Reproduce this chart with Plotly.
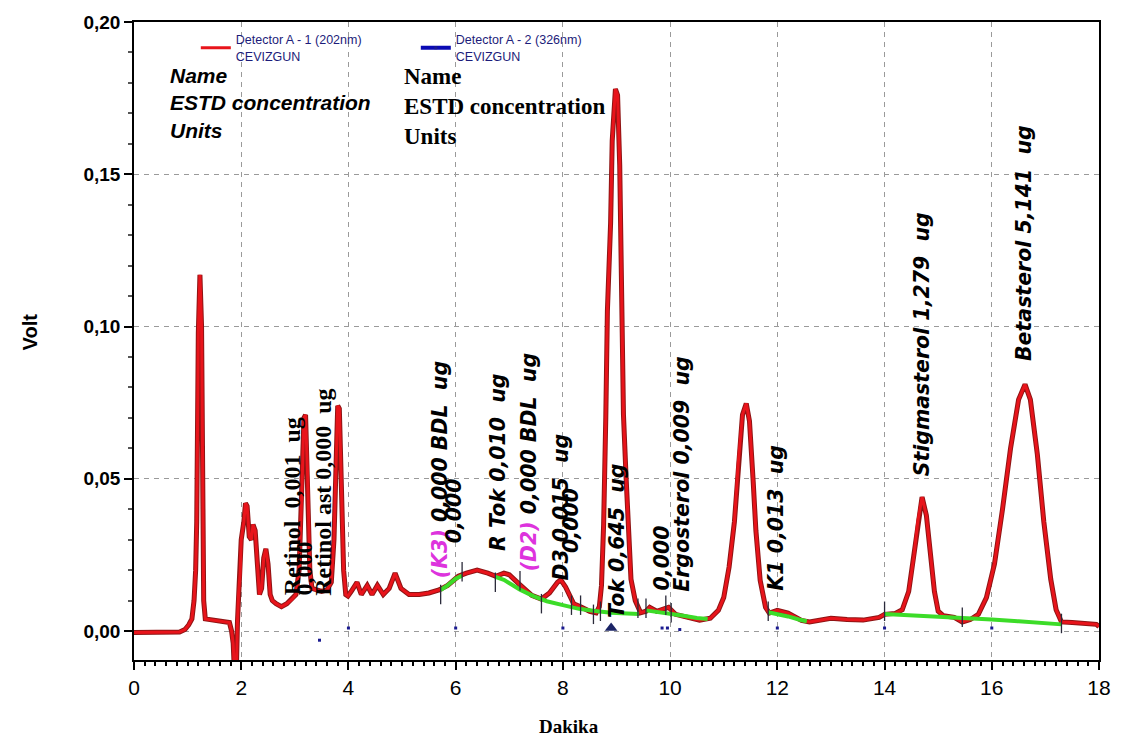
import plotly.graph_objects as go

# ---------------- data ----------------
red_t = [0.00, 0.50, 0.85, 0.95, 1.02, 1.08, 1.12, 1.15, 1.17, 1.20, 1.23, 1.26, 1.28, 1.30, 1.33,
         1.50, 1.70, 1.78, 1.82, 1.85, 1.87, 1.91, 1.93, 1.95, 1.98, 2.00, 2.05, 2.08, 2.11, 2.15,
         2.19, 2.22, 2.26, 2.30, 2.34, 2.38, 2.42, 2.46, 2.50, 2.54, 2.58, 2.65, 2.75, 2.85, 2.95,
         3.02, 3.08, 3.13, 3.17, 3.20, 3.24, 3.28, 3.32, 3.40, 3.50, 3.60, 3.68, 3.73, 3.77, 3.80,
         3.83, 3.87, 3.91, 3.95, 3.99, 4.05, 4.16, 4.24, 4.35, 4.44, 4.54, 4.65, 4.76, 4.87, 4.98,
         5.13, 5.32, 5.50, 5.69, 5.85, 6.05, 6.20, 6.40, 6.60, 6.75, 6.90, 7.00, 7.18, 7.42, 7.60,
         7.75, 7.90, 7.96, 8.05, 8.20, 8.35, 8.50, 8.62, 8.68, 8.72, 8.76, 8.80, 8.83, 8.89, 8.92,
         8.98, 9.02, 9.06, 9.09, 9.13, 9.18, 9.22, 9.27, 9.35, 9.45, 9.55, 9.62, 9.75, 9.85, 9.97,
         10.10, 10.30, 10.55, 10.75, 10.90, 11.00, 11.10, 11.20, 11.27, 11.35, 11.42, 11.48, 11.55,
         11.60, 11.68, 11.78, 11.85, 12.00, 12.20, 12.45, 12.60, 13.00, 13.30, 13.60, 13.90, 14.00,
         14.20, 14.33, 14.45, 14.55, 14.62, 14.70, 14.78, 14.85, 14.93, 15.00, 15.10, 15.30, 15.45,
         15.60, 15.75, 15.90, 16.05, 16.20, 16.35, 16.50, 16.62, 16.72, 16.85, 16.97, 17.10, 17.20,
         17.30, 17.50, 17.80, 17.95, 18.00]
red_v = [-0.0005, -0.0005, -0.0003, 0.0005, 0.002, 0.004, 0.010, 0.020, 0.036, 0.098, 0.117, 0.100, 0.035, 0.010, 0.004,
         0.0035, 0.0030, 0.0028, 0.0000, -0.004, -0.012, -0.012, 0.003, 0.012, 0.019, 0.030, 0.036, 0.042, 0.041, 0.031,
         0.030, 0.035, 0.033, 0.022, 0.012, 0.014, 0.024, 0.027, 0.022, 0.012, 0.010, 0.009, 0.008, 0.009, 0.0105,
         0.012, 0.020, 0.045, 0.070, 0.071, 0.050, 0.020, 0.014, 0.0135, 0.013, 0.0135, 0.016, 0.030, 0.055, 0.074,
         0.073, 0.045, 0.020, 0.012, 0.0115, 0.013, 0.016, 0.012, 0.015, 0.012, 0.015, 0.012, 0.014, 0.019, 0.014,
         0.012, 0.012, 0.0125, 0.0135, 0.015, 0.018, 0.019, 0.020, 0.019, 0.018, 0.019, 0.0185, 0.0155, 0.0117, 0.0105,
         0.0125, 0.016, 0.0168, 0.0145, 0.009, 0.0078, 0.0065, 0.006, 0.008, 0.015, 0.035, 0.070, 0.105, 0.134, 0.161,
         0.178, 0.176, 0.153, 0.110, 0.071, 0.050, 0.033, 0.017, 0.010, 0.006, 0.0065, 0.0078, 0.0065, 0.007, 0.0078,
         0.0055, 0.0045, 0.0036, 0.0042, 0.0068, 0.011, 0.021, 0.036, 0.055, 0.071, 0.0747, 0.069, 0.049,
         0.033, 0.0166, 0.0078, 0.0059, 0.0068, 0.0059, 0.0035, 0.0030, 0.0042, 0.0038, 0.0036, 0.0045, 0.0055,
         0.0058, 0.007, 0.013, 0.025, 0.036, 0.044, 0.038, 0.026, 0.013, 0.0065, 0.005, 0.0045, 0.003,
         0.0038, 0.0055, 0.011, 0.022, 0.040, 0.060, 0.076, 0.081, 0.076, 0.058, 0.036, 0.017, 0.007,
         0.003, 0.0028, 0.0025, 0.0022, 0.0015]

# integration baselines (green)
g1_t = [5.72, 5.85, 6.00, 6.12]
g1_v = [0.0135, 0.0150, 0.0172, 0.0182]
g2_t = [6.74, 6.90, 7.05, 7.20, 7.45, 7.70, 8.00, 8.30, 8.60, 8.90, 9.20, 9.42]
g2_v = [0.0178, 0.0168, 0.0152, 0.0136, 0.0115, 0.0098, 0.0085, 0.0073, 0.0066, 0.0060, 0.0058, 0.0056]
g3_t = [9.55, 9.75, 10.00, 10.25, 10.50, 10.70]
g3_v = [0.0068, 0.0062, 0.0056, 0.0050, 0.0043, 0.0040]
g4_t = [11.83, 12.00, 12.20, 12.40, 12.55]
g4_v = [0.0062, 0.0056, 0.0048, 0.0038, 0.0032]
g5_t = [14.00, 14.50, 15.00, 15.45, 16.00, 16.50, 17.00, 17.30]
g5_v = [0.0056, 0.0052, 0.0048, 0.0043, 0.0038, 0.0032, 0.0026, 0.0022]

# peak start / end event marks
mark_t = [5.72, 6.12, 6.74, 7.20, 7.60, 8.16, 8.33, 8.57, 8.70, 9.40, 9.55, 9.92, 10.02, 11.83, 14.00, 15.45, 17.30]
mark_v = [0.012, 0.0195, 0.016, 0.0165, 0.009, 0.0085, 0.0085, 0.0055, 0.0065, 0.0075, 0.0075, 0.0085, 0.006,
          0.0065, 0.0065, 0.0045, 0.0025]

# detector 2 trace (only small dots visible)
d2_t = [3.46, 4.00, 6.00, 8.00, 9.85, 9.95, 10.18, 12.00, 14.00, 16.00]
d2_v = [-0.003, 0.001, 0.001, 0.001, 0.001, 0.001, 0.0005, 0.001, 0.001, 0.001]
flag_t = [8.90]
flag_v = [0.0010]

# peak labels
serif_labels = ["Retinol  0,001  ug", "0,000", "Retinol ast 0,000  ug"]
serif_t = [2.94, 3.17, 3.52]
serif_v = [0.0110, 0.0110, 0.0110]

MAG = "#dd33dd"
sans_labels = [f"<span style='color:{MAG}'>(K3)</span> 0,000 BDL  ug", "0,000", "R Tok 0,010  ug",
               f"<span style='color:{MAG}'>(D2)</span> 0,000 BDL  ug", "D3 0,015  ug", "0,000",
               "Tok 0,645  ug", "0,000", "Ergosterol 0,009  ug", "K1 0,013  ug",
               "Stigmasterol 1,279  ug", "Betasterol 5,141  ug"]
sans_t = [5.71, 5.97, 6.80, 7.37, 7.96, 8.16, 9.00, 9.84, 10.23, 11.98, 14.69, 16.60]
sans_v = [0.0166, 0.028, 0.0255, 0.019, 0.016, 0.025, 0.0036, 0.0127, 0.0124, 0.0127, 0.050, 0.088]

x_ticks = [0, 2, 4, 6, 8, 10, 12, 14, 16, 18]
y_ticks = [0.00, 0.05, 0.10, 0.15, 0.20]

# ---------------- figure ----------------
L, R, T, B = 134, 21, 18, 82
W, H = 1123, 742
PW, PH = W - L - R, H - T - B


def px(xp):
    return (xp - L) / PW


def py(yp):
    return 1 - (yp - T) / PH


fig = go.Figure()

# dark underlay for the chromatogram line
fig.add_trace(go.Scatter(x=red_t, y=red_v, mode="lines", line=dict(color="#8e1414", width=5),
                         showlegend=False, hoverinfo="skip"))
fig.add_trace(go.Scatter(x=red_t, y=red_v, mode="lines", line=dict(color="#e8141b", width=3),
                         name="Detector A - 1 (202nm)<br>CEVIZGUN"))

# detector 2 (dots only)
d2x, d2y = [], []
for t, v in zip(d2_t, d2_v):
    d2x += [t, None]
    d2y += [v, None]
fig.add_trace(go.Scatter(x=d2x, y=d2y, mode="lines+markers", connectgaps=False,
                         line=dict(color="#0a0ab4", width=4),
                         marker=dict(color="#1a1a90", size=3, symbol="square"),
                         name="Detector A - 2 (326nm)<br>CEVIZGUN"))

# green baselines
for gt, gv in [(g1_t, g1_v), (g2_t, g2_v), (g3_t, g3_v), (g4_t, g4_v), (g5_t, g5_v)]:
    fig.add_trace(go.Scatter(x=gt, y=gv, mode="lines", line=dict(color="#3cdc28", width=4),
                             showlegend=False, hoverinfo="skip"))

# event marks
mx, my = [], []
for t, v in zip(mark_t, mark_v):
    mx += [t, t, None]
    my += [v - 0.0032, v + 0.0032, None]
fig.add_trace(go.Scatter(x=mx, y=my, mode="lines", line=dict(color="#2a2a3a", width=1.3),
                         showlegend=False, hoverinfo="skip"))

fig.add_trace(go.Scatter(x=flag_t, y=flag_v, mode="markers",
                         marker=dict(symbol="triangle-up", size=11, color="#1b2466"),
                         showlegend=False, hoverinfo="skip"))

ann = []
for txt, t, v in zip(serif_labels, serif_t, serif_v):
    ann.append(dict(x=t, y=v, xref="x", yref="y", text=txt, textangle=-90, showarrow=False,
                    xanchor="center", yanchor="bottom",
                    font=dict(family="Liberation Serif", size=24, color="black", weight="bold")))
for txt, t, v in zip(sans_labels, sans_t, sans_v):
    ann.append(dict(x=t, y=v, xref="x", yref="y", text=txt, textangle=-90, showarrow=False,
                    xanchor="center", yanchor="bottom",
                    font=dict(family="DejaVu Sans", size=20.5, color="black", weight="bold",
                              style="italic")))

# header blocks
ann.append(dict(x=px(168), y=py(100), xref="paper", yref="paper", showarrow=False,
                text="Name<br>ESTD concentration<br>Units", align="left",
                xanchor="left", yanchor="middle",
                font=dict(family="Liberation Sans", size=21, color="black", weight="bold",
                          style="italic")))
ann.append(dict(x=px(403), y=py(103), xref="paper", yref="paper", showarrow=False,
                text="Name<br>ESTD concentration<br>Units", align="left",
                xanchor="left", yanchor="middle",
                font=dict(family="Liberation Serif", size=23, color="black", weight="bold")))

# axis titles
ann.append(dict(x=px(30), y=py(330), xref="paper", yref="paper", showarrow=False, text="Volt",
                textangle=-90, xanchor="center", yanchor="middle",
                font=dict(family="Liberation Sans", size=20, color="black", weight="bold")))
ann.append(dict(x=px(570), y=py(727), xref="paper", yref="paper", showarrow=False, text="Dakika",
                xanchor="center", yanchor="middle",
                font=dict(family="Liberation Serif", size=19, color="black", weight="bold")))

fig.update_layout(
    width=W, height=H, autosize=False,
    margin=dict(l=L, r=R, t=T, b=B, pad=0),
    paper_bgcolor="white", plot_bgcolor="white",
    separators=",.",
    annotations=ann,
    legend=dict(orientation="h", x=px(196), y=py(21), xanchor="left", yanchor="top",
                bgcolor="rgba(0,0,0,0)", valign="middle",
                font=dict(family="Liberation Sans", size=12.5, color="#1c1c7a"),
                entrywidth=175, entrywidthmode="pixels", itemwidth=30, tracegroupgap=0),
    showlegend=True,
)

fig.update_xaxes(range=[0, 18], tickvals=x_ticks, ticktext=[str(v) for v in x_ticks],
                 showgrid=True, gridcolor="#9a9a9a", griddash="5px,5px", gridwidth=1,
                 showline=True, linecolor="black", linewidth=2, mirror=True,
                 ticks="outside", ticklen=8, tickwidth=1.5, tickcolor="black",
                 minor=dict(dtick=0.2, ticks="outside", ticklen=4, tickcolor="black", showgrid=False),
                 zeroline=False,
                 tickfont=dict(family="Liberation Sans Narrow, Liberation Sans", size=21, color="black"))
fig.update_yaxes(range=[-0.0095, 0.2], tickvals=y_ticks, tickformat=".2f",
                 showgrid=True, gridcolor="#9a9a9a", griddash="5px,5px", gridwidth=1,
                 showline=True, linecolor="black", linewidth=1.5, mirror=True,
                 ticks="outside", ticklen=8, tickwidth=1.5, tickcolor="black",
                 minor=dict(dtick=0.01, ticks="outside", ticklen=4, tickcolor="#555", showgrid=False),
                 zeroline=False,
                 tickfont=dict(family="Liberation Sans", size=19, color="black", weight="bold"))

fig.write_html("out.html")
